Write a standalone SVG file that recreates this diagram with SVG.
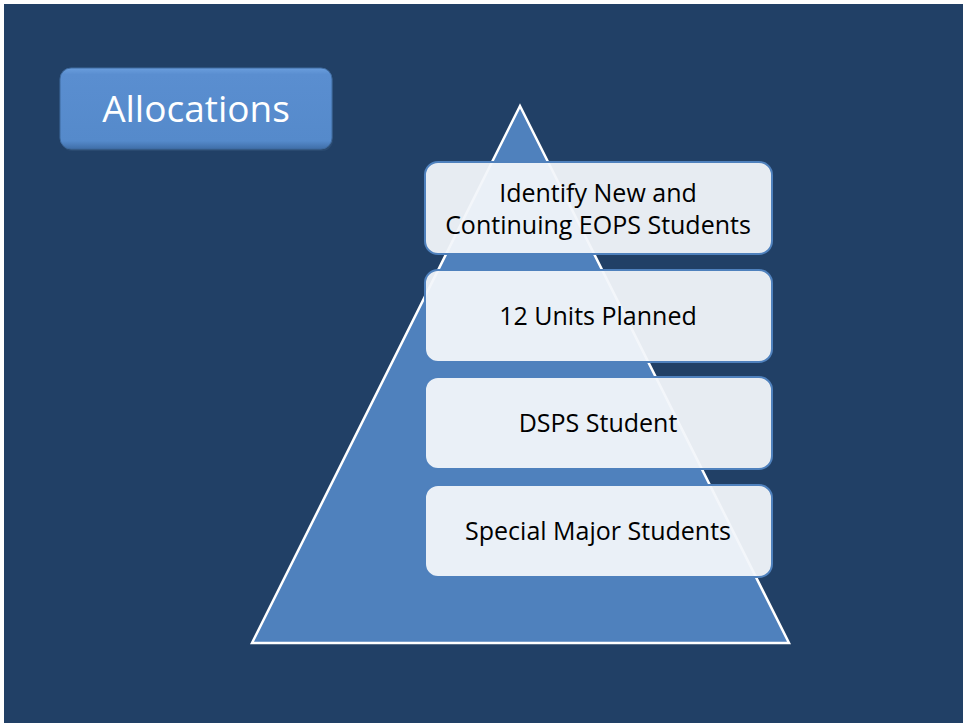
<svg xmlns="http://www.w3.org/2000/svg" width="963" height="725" viewBox="0 0 963 725">
<defs>
<style>
.lvl rect{fill:#F2F5FA;fill-opacity:0.95;stroke:#4F81BD;stroke-width:2}
.lvl text{font-family:"Open Sans","Liberation Sans",sans-serif;font-size:25px;fill:#000;text-anchor:middle}
</style>
<linearGradient id="btn" x1="0" y1="0" x2="0" y2="1">
<stop offset="0" stop-color="#6A9EDD"/>
<stop offset="0.08" stop-color="#5A8ED0"/>
<stop offset="0.9" stop-color="#558ACB"/>
<stop offset="1" stop-color="#3F6EA8"/>
</linearGradient>
</defs>
<rect x="0" y="0" width="963" height="725" fill="#FFFFFF"/>
<rect x="4" y="4" width="959" height="719" fill="#214066"/>
<g id="title">
<rect x="60" y="68" width="272" height="81" rx="11" fill="#2A4A70" transform="translate(1,2)"/>
<rect x="60" y="68" width="272" height="81" rx="11" fill="url(#btn)" stroke="#3E6A9E" stroke-width="1"/>
<text x="196" y="122" font-family="Open Sans,Liberation Sans,sans-serif" font-size="37" fill="#FFFFFF" text-anchor="middle">Allocations</text>
</g>
<g id="pyramid">
<polygon points="520,106 252,643 789,643" fill="#4F81BD" stroke="#FFFFFF" stroke-width="2.5" stroke-linejoin="miter"/>
</g>
<g id="level1" class="lvl">
<rect x="425" y="162" width="347" height="92" rx="13"/>
<text x="598" y="202">Identify New and</text>
<text x="598" y="234">Continuing EOPS Students</text>
</g>
<g id="level2" class="lvl">
<rect x="425" y="270" width="347" height="92" rx="13"/>
<text x="598" y="325">12 Units Planned</text>
</g>
<g id="level3" class="lvl">
<rect x="425" y="377" width="347" height="92" rx="13"/>
<text x="598" y="432">DSPS Student</text>
</g>
<g id="level4" class="lvl">
<rect x="425" y="485" width="347" height="92" rx="13"/>
<text x="598" y="540">Special Major Students</text>
</g>
<g id="connectors"/>
</svg>
